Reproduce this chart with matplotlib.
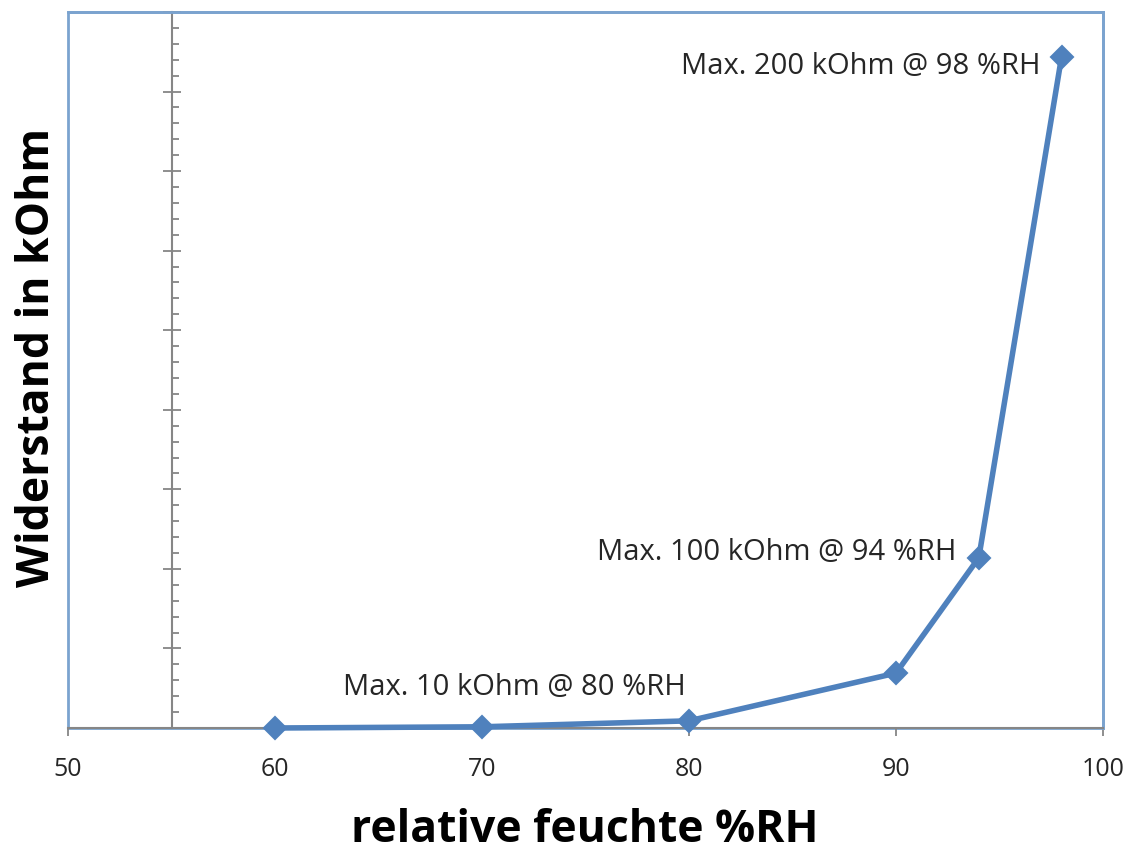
import numpy as np
import matplotlib
matplotlib.use("Agg")
import matplotlib.pyplot as plt
import matplotlib.patches as patches
from matplotlib.ticker import MultipleLocator

plt.rcParams['font.family'] = ['Open Sans', 'DejaVu Sans']

# data
humidity = [60, 70, 80, 90, 94, 98]
resistance = [0.0, 0.3, 1.8, 13.8, 42.8, 168.8]

notes = ["Max. 10 kOhm @ 80 %RH", "Max. 100 kOhm @ 94 %RH", "Max. 200 kOhm @ 98 %RH"]
note_idx = [2, 4, 5]
note_offsets = [(-2, 24), (-16, 3.5), (-15, -7.5)]

x_ticks = [50, 60, 70, 80, 90, 100]

blue = '#4F81BD'
gray = '#868686'

fig = plt.figure(figsize=(11.29, 8.52), dpi=100)
ax = fig.add_axes([68 / 1129, 1 - 728 / 852, (1103 - 68) / 1129, (728 - 12) / 852])

ax.plot(humidity, resistance, color=blue, lw=4, marker='D', ms=11,
        mec=blue, mfc=blue, mew=1.5, zorder=5, clip_on=False)

for txt, i, off in zip(notes, note_idx, note_offsets):
    ax.annotate(txt, xy=(humidity[i], resistance[i]), xytext=off,
                textcoords='offset points', ha='right', va='center',
                fontsize=21, color='#262626')

ax.set_xlim(50, 100)
ax.set_ylim(0, 180)
ax.set_xticks(x_ticks)
ax.yaxis.set_major_locator(MultipleLocator(20))
ax.yaxis.set_minor_locator(MultipleLocator(4))
ax.set_yticklabels([])

# plot area frame in light blue
for s in ['top', 'right']:
    ax.spines[s].set_color('#7BA3CF')
    ax.spines[s].set_linewidth(2)
frame = patches.Rectangle((0, 0), 1, 1, transform=ax.transAxes, fill=False,
                          edgecolor='#7BA3CF', lw=2, zorder=0.5, clip_on=False)
ax.add_patch(frame)

# value axis crosses at 55
ax.spines['left'].set_position(('data', 55))
ax.spines['left'].set_color(gray)
ax.spines['left'].set_linewidth(1.5)
ax.spines['bottom'].set_color(gray)
ax.spines['bottom'].set_linewidth(1.5)
ax.spines['bottom'].set_zorder(3)

ax.tick_params(axis='y', which='major', direction='inout', length=13, width=1.3,
               color=gray)
ax.tick_params(axis='y', which='minor', direction='in', length=5, width=1.3,
               color=gray)
ax.tick_params(axis='x', which='major', direction='out', length=6, width=1.3,
               color=gray, labelsize=18, labelcolor='#262626', pad=15)

fig.text(585 / 1129, 1 - 830 / 852, 'relative feuchte %RH', ha='center',
         va='center', fontsize=32, fontweight='bold')
fig.text(38 / 1129, 1 - 357 / 852, 'Widerstand in kOhm', ha='center',
         va='center', rotation=90, fontsize=32, fontweight='bold')

fig.savefig('out.png', dpi=100)
